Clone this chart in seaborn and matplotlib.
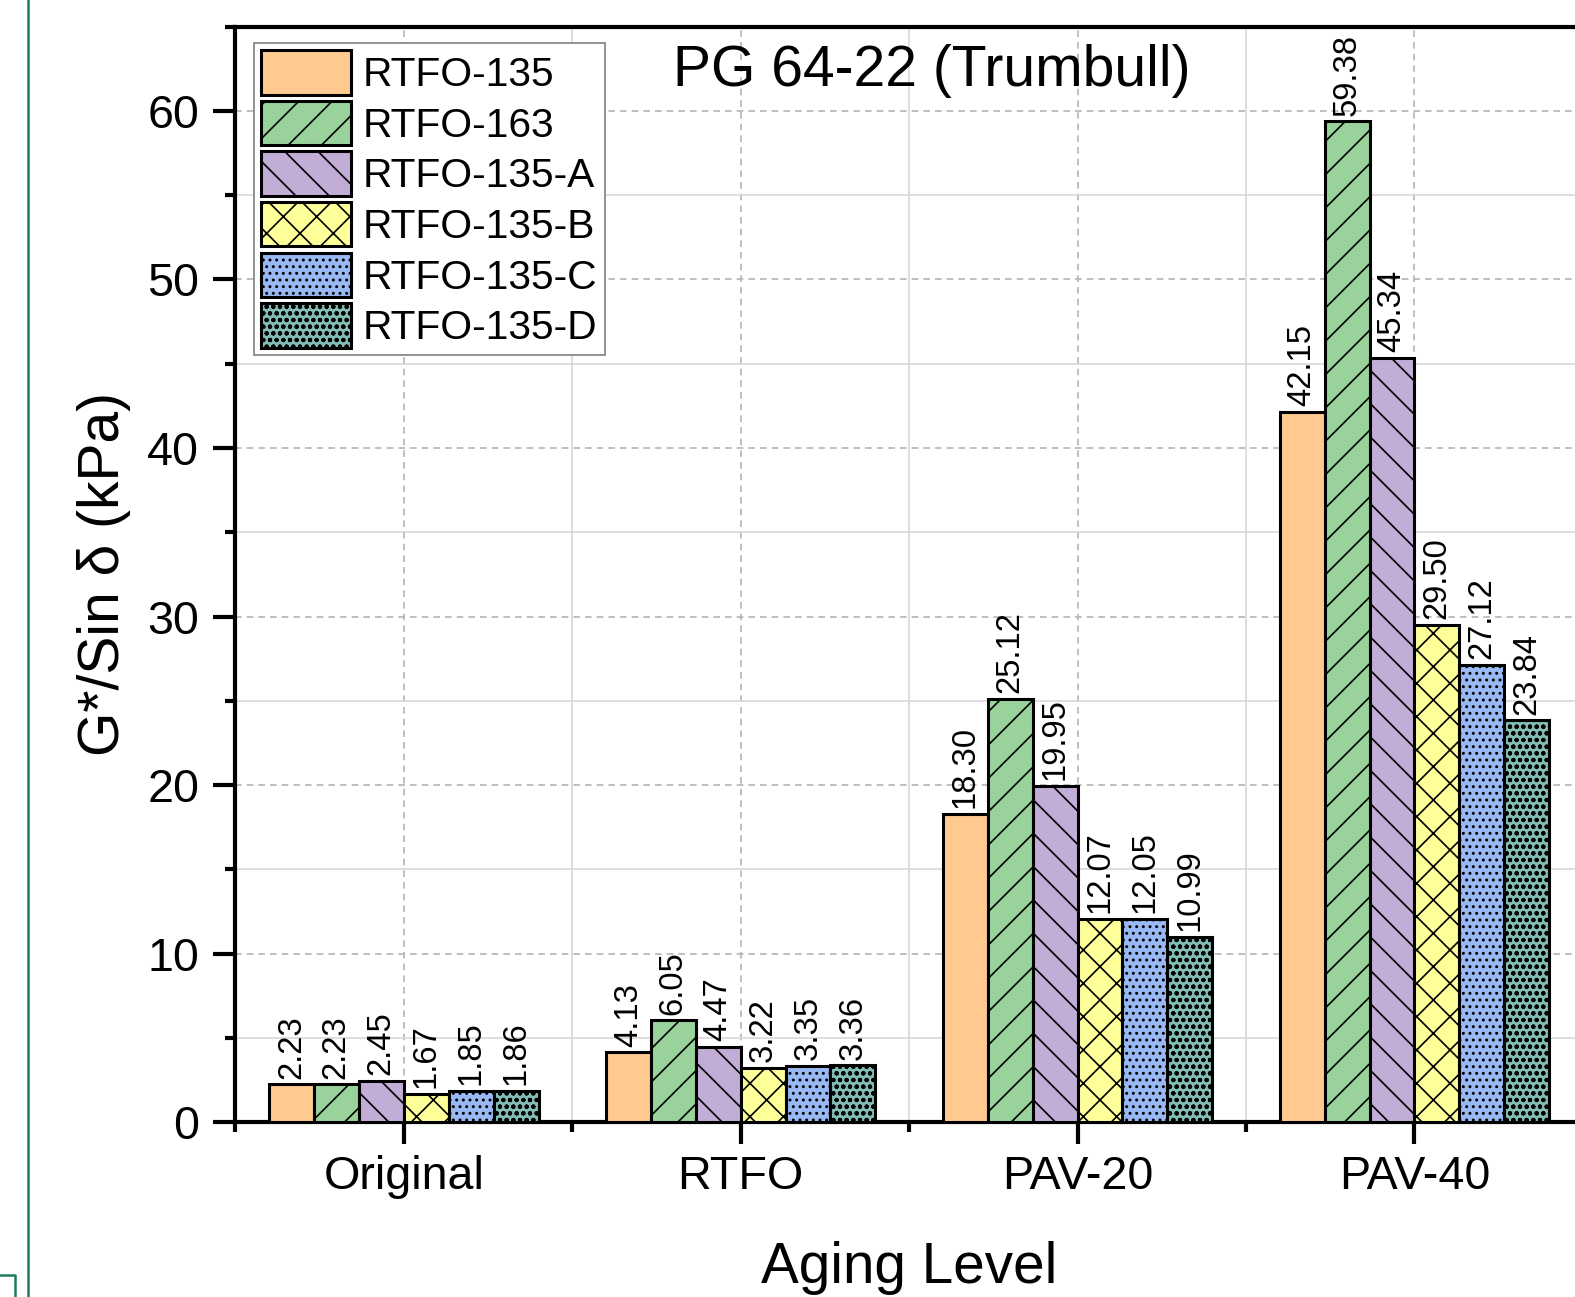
import matplotlib
matplotlib.use("Agg")
import matplotlib.pyplot as plt
from matplotlib.lines import Line2D
from matplotlib.ticker import MultipleLocator, FixedLocator
import numpy as np
import pandas as pd
import seaborn as sns

# Aging levels and binder conditions
aging_levels = ["Original", "RTFO", "PAV-20", "PAV-40"]
binders = ["RTFO-135", "RTFO-163", "RTFO-135-A", "RTFO-135-B", "RTFO-135-C", "RTFO-135-D"]

# G*/sin(delta) in kPa, one list per binder condition (Original, RTFO, PAV-20, PAV-40)
rtfo_135 = [2.23, 4.13, 18.30, 42.15]
rtfo_163 = [2.23, 6.05, 25.12, 59.38]
rtfo_135_a = [2.45, 4.47, 19.95, 45.34]
rtfo_135_b = [1.67, 3.22, 12.07, 29.50]
rtfo_135_c = [1.85, 3.35, 12.05, 27.12]
rtfo_135_d = [1.86, 3.36, 10.99, 23.84]

series = [rtfo_135, rtfo_163, rtfo_135_a, rtfo_135_b, rtfo_135_c, rtfo_135_d]

colors = ["#FFC98F", "#99D39B", "#C2ADD6", "#FFFF99", "#99B9F5", "#82BDB5"]
hatches = ["", "//", "\\\\", "xx", ".....", "ooooo"]

rows = []
for name, vals in zip(binders, series):
    for lvl, v in zip(aging_levels, vals):
        rows.append({"Aging Level": lvl, "Binder": name, "G": v})
df = pd.DataFrame(rows)

sns.set_theme(style="white")
plt.rcParams["font.family"] = ["Liberation Sans", "DejaVu Sans"]
plt.rcParams["hatch.linewidth"] = 0.6
plt.rcParams["text.color"] = "black"
plt.rcParams["axes.labelcolor"] = "black"
plt.rcParams["xtick.color"] = "black"
plt.rcParams["ytick.color"] = "black"

fig = plt.figure(figsize=(7.875, 6.485), dpi=200, facecolor="white")
ax = fig.add_axes([0.1494, 0.1349, 1.005 - 0.1494, 0.9794 - 0.1349])

sns.barplot(
    data=df, x="Aging Level", y="G", hue="Binder",
    order=aging_levels, hue_order=binders, palette=colors,
    saturation=1, errorbar=None, edgecolor="black", linewidth=1.1,
    legend=False, ax=ax, zorder=3,
)

for cont, h in zip(ax.containers, hatches):
    for p in cont:
        p.set_hatch(h)
    ax.bar_label(cont, fmt="%.2f", rotation=90, padding=2, fontsize=11.8, color="black")

ax.set_xlim(-0.5, 3.5)
ax.set_ylim(0, 65)

# ticks
ax.yaxis.set_major_locator(MultipleLocator(10))
ax.yaxis.set_minor_locator(MultipleLocator(5))
ax.xaxis.set_minor_locator(FixedLocator([-0.5, 0.5, 1.5, 2.5, 3.5]))
ax.tick_params(axis="both", which="major", direction="out", length=8, width=1.5,
               labelsize=16.8, color="black", labelcolor="black", left=True, bottom=True)
ax.tick_params(axis="both", which="minor", direction="out", length=3.6, width=1.5,
               color="black", left=True, bottom=True)
ax.tick_params(axis="y", which="major", pad=5)
ax.tick_params(axis="x", which="major", pad=4)

# grid
ax.set_axisbelow(True)
ax.grid(True, which="major", linestyle=(0, (4, 3)), color="#b4b4b4", linewidth=0.6)
ax.grid(True, which="minor", linestyle="-", color="#ddd6dd", linewidth=0.6)

for side in ["left", "bottom", "top", "right"]:
    ax.spines[side].set_visible(True)
    ax.spines[side].set_color("black")
    ax.spines[side].set_linewidth(1.5)

ax.set_xlabel("Aging Level", fontsize=20.4, labelpad=15, color="black")
ax.set_ylabel("G*/Sin δ (kPa)", fontsize=20.5, labelpad=6, color="black")

ax.text(0.517, 0.96, "PG 64-22 (Trumbull)", transform=ax.transAxes,
        ha="center", va="center", fontsize=20.5, color="black")

leg = ax.legend(
    ax.containers, binders, loc="upper left", bbox_to_anchor=(0.0139, 0.985),
    borderaxespad=0, fontsize=14.7, handlelength=2.2, handleheight=1.3,
    labelspacing=0.15, handletextpad=0.3, borderpad=0.17, fancybox=False,
    framealpha=1, edgecolor="#808080", labelcolor="black",
)
leg.get_frame().set_linewidth(0.6)

# page frame lines
fig.add_artist(Line2D([28 / 1575, 28 / 1575], [0, 1], color="#1f7a5e", linewidth=0.9))
fig.add_artist(Line2D([0, 15 / 1575, 15 / 1575], [1 - 1275 / 1297, 1 - 1275 / 1297, 0],
                      color="#1f7a5e", linewidth=0.9))

fig.savefig("out.png", dpi=200, facecolor="white")
